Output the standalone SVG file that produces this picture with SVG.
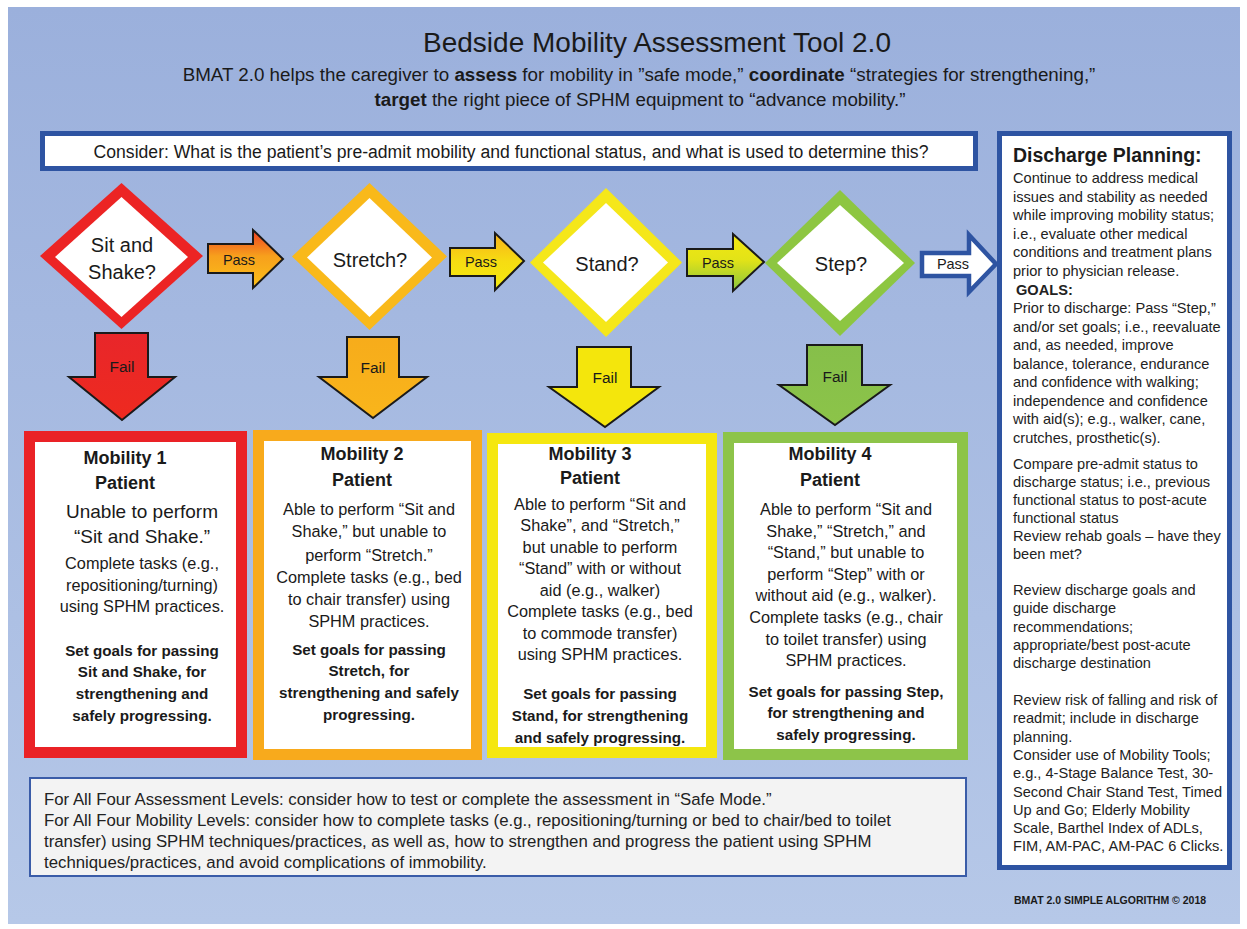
<svg xmlns="http://www.w3.org/2000/svg" width="1247" height="929" viewBox="0 0 1247 929">
<defs>
<linearGradient id="bg" x1="0" y1="0" x2="0" y2="1">
<stop offset="0" stop-color="#9bb0dc"/>
<stop offset="1" stop-color="#b6c8e8"/>
</linearGradient>
<linearGradient id="gPass1" x1="0" y1="0" x2="0" y2="1">
<stop offset="0" stop-color="#ee3f24"/>
<stop offset="0.45" stop-color="#f7a01c"/>
<stop offset="1" stop-color="#fbc019"/>
</linearGradient>
<linearGradient id="gPass2" x1="0" y1="0" x2="0" y2="1">
<stop offset="0" stop-color="#f8b21a"/>
<stop offset="0.5" stop-color="#f6dc12"/>
<stop offset="1" stop-color="#f4ea10"/>
</linearGradient>
<linearGradient id="gPass3" x1="0" y1="0" x2="0" y2="1">
<stop offset="0" stop-color="#f3e812"/>
<stop offset="0.45" stop-color="#e3e317"/>
<stop offset="1" stop-color="#86c440"/>
</linearGradient>
<linearGradient id="gRed" x1="0" y1="0" x2="0" y2="1">
<stop offset="0" stop-color="#e8262a"/>
<stop offset="1" stop-color="#ee2a1f"/>
</linearGradient>
<linearGradient id="gOrange" x1="0" y1="0" x2="0" y2="1">
<stop offset="0" stop-color="#f7ac1b"/>
<stop offset="1" stop-color="#f9b51b"/>
</linearGradient>
<linearGradient id="gGreen" x1="0" y1="0" x2="0" y2="1">
<stop offset="0" stop-color="#86bf4a"/>
<stop offset="1" stop-color="#8cc449"/>
</linearGradient>
</defs>
<style>
text { font-family: "Liberation Sans", Arial, sans-serif; fill: #1a1a1a; }
.title { font-size: 28px; text-anchor: middle; }
.sub { font-size: 18.8px; text-anchor: middle; }
.b { font-weight: bold; }
.dt { font-size: 20px; text-anchor: middle; }
.pass { font-size: 14.5px; text-anchor: middle; }
.fail { font-size: 15.5px; text-anchor: middle; }
.mh { font-size: 18px; font-weight: bold; text-anchor: middle; }
.mb { font-size: 16.3px; text-anchor: middle; }
.mbl { font-size: 19px; text-anchor: middle; }
.mg { font-size: 15.2px; font-weight: bold; text-anchor: middle; }
.ds { font-size: 14.6px; fill: #222; }
.dh { font-size: 19.5px; font-weight: bold; }
.bt { font-size: 16.8px; fill: #222; }
.arrow { stroke: #1a1a1a; stroke-width: 2; stroke-linejoin: miter; }
.white { fill: #ffffff; }
</style>
<rect x="0" y="0" width="1247" height="929" fill="#ffffff"/>
<rect x="8" y="7" width="1232" height="917" fill="url(#bg)"/>

<g id="header">
<text class="title" x="657" y="52">Bedside Mobility Assessment Tool 2.0</text>
<text class="sub" x="639" y="81">BMAT 2.0 helps the caregiver to <tspan class="b">assess</tspan> for mobility in ”safe mode,” <tspan class="b">coordinate</tspan> “strategies for strengthening,”</text>
<text class="sub" x="640" y="106"><tspan class="b">target</tspan> the right piece of SPHM equipment to “advance mobility.”</text>
</g>

<g id="consider">
<rect x="42.5" y="133.5" width="933" height="35" fill="#ffffff" stroke="#2e54a2" stroke-width="5"/>
<text x="511" y="158" font-size="17.6" text-anchor="middle">Consider: What is the patient’s pre-admit mobility and functional status, and what is used to determine this?</text>
</g>

<g id="connectors">
<g id="pass1">
<polygon class="arrow" points="208,244 253,244 253,230 283,259 253,288 253,273 208,273" fill="url(#gPass1)"/>
<text class="pass" x="239" y="265">Pass</text>
</g>
<g id="pass2">
<polygon class="arrow" points="450,248 495,248 495,233 524,261 495,290 495,276 450,276" fill="url(#gPass2)"/>
<text class="pass" x="481" y="267">Pass</text>
</g>
<g id="pass3">
<polygon class="arrow" points="687,249 733,249 733,234 764,262 733,291 733,276 687,276" fill="url(#gPass3)"/>
<text class="pass" x="718" y="268">Pass</text>
</g>
<g id="pass4">
<polygon points="922,253 969,253 969,235 996,264 969,292 969,276 922,276" fill="#ffffff" stroke="#2e54a2" stroke-width="4.5" stroke-linejoin="miter"/>
<text class="pass" x="953" y="269">Pass</text>
</g>
<g id="fail1">
<polygon class="arrow" points="95,333 148,333 148,377 175,377 122,420 69,377 95,377" fill="url(#gRed)"/>
<text class="fail" x="122" y="372">Fail</text>
</g>
<g id="fail2">
<polygon class="arrow" points="347,337 399,337 399,377 427,377 373,418 319,377 347,377" fill="url(#gOrange)"/>
<text class="fail" x="373" y="373">Fail</text>
</g>
<g id="fail3">
<polygon class="arrow" points="577,347 631,347 631,387 659,387 605,427 549,387 577,387" fill="#f4e60c"/>
<text class="fail" x="605" y="383" font-size="16">Fail</text>
</g>
<g id="fail4">
<polygon class="arrow" points="807,345 862,345 862,385 890,385 835,425 779,385 807,385" fill="url(#gGreen)"/>
<text class="fail" x="835" y="382" font-size="16">Fail</text>
</g>
</g>

<g id="d1">
<polygon points="121.5,183 203,256 121.5,329 40,256" fill="#ec2424"/>
<polygon class="white" points="121.5,197 188,257 121.5,317 55,257"/>
<text class="dt" x="122" y="252">Sit and</text>
<text class="dt" x="122" y="279">Shake?</text>
</g>
<g id="d2">
<polygon points="369.5,183 447,256.5 369.5,330 292,256.5" fill="#f9b91a"/>
<polygon class="white" points="369.5,198 432,257.5 369.5,317 307,257.5"/>
<text class="dt" x="370" y="267" font-size="20.5">Stretch?</text>
</g>
<g id="d3">
<polygon points="606,188 682,262.5 606,337 530,262.5" fill="#f5e71a"/>
<polygon class="white" points="606,203 668,262.5 606,322 543,262.5"/>
<text class="dt" x="607" y="271" font-size="20.5">Stand?</text>
</g>
<g id="d4">
<polygon points="840,190 915,263 840,336 765,263" fill="#8dc641"/>
<polygon class="white" points="840,205 904,263 840,321 777,263"/>
<text class="dt" x="841" y="271" font-size="20.5">Step?</text>
</g>

<g id="m1">
<rect x="29.5" y="436.5" width="212" height="316" fill="#ffffff" stroke="#ea2226" stroke-width="11"/>
<text class="mh" x="125" y="464">Mobility 1</text>
<text class="mh" x="125" y="489">Patient</text>
<text class="mbl" x="142" y="518">Unable to perform</text>
<text class="mbl" x="142" y="543">“Sit and Shake.”</text>
<text class="mb" x="142" y="569">Complete tasks (e.g.,</text>
<text class="mb" x="142" y="591">repositioning/turning)</text>
<text class="mb" x="142" y="612">using SPHM practices.</text>
<text class="mg" x="142" y="656">Set goals for passing</text>
<text class="mg" x="142" y="677">Sit and Shake, for</text>
<text class="mg" x="142" y="699">strengthening  and</text>
<text class="mg" x="142" y="721">safely  progressing.</text>
</g>

<g id="m2">
<rect x="258.5" y="435.5" width="218" height="319" fill="#ffffff" stroke="#f8aa1c" stroke-width="11"/>
<text class="mh" x="362" y="460">Mobility 2</text>
<text class="mh" x="362" y="486">Patient</text>
<text class="mb" x="369" y="515">Able to perform “Sit and</text>
<text class="mb" x="369" y="537">Shake,” but unable to</text>
<text class="mb" x="369" y="561">perform “Stretch.”</text>
<text class="mb" x="369" y="583">Complete tasks (e.g., bed</text>
<text class="mb" x="369" y="605">to chair transfer) using</text>
<text class="mb" x="369" y="627">SPHM practices.</text>
<text class="mg" x="369" y="655">Set goals for passing</text>
<text class="mg" x="369" y="676">Stretch, for</text>
<text class="mg" x="369" y="698">strengthening and safely</text>
<text class="mg" x="369" y="720">progressing.</text>
</g>

<g id="m3">
<rect x="492.5" y="438.5" width="219" height="314" fill="#ffffff" stroke="#f5e70f" stroke-width="11"/>
<text class="mh" x="590" y="460">Mobility 3</text>
<text class="mh" x="590" y="484">Patient</text>
<text class="mb" x="600" y="510">Able to perform “Sit and</text>
<text class="mb" x="600" y="531">Shake”, and “Stretch,”</text>
<text class="mb" x="600" y="553">but unable to perform</text>
<text class="mb" x="600" y="574">“Stand” with or without</text>
<text class="mb" x="600" y="596">aid (e.g., walker)</text>
<text class="mb" x="600" y="617">Complete tasks (e.g., bed</text>
<text class="mb" x="600" y="639">to commode  transfer)</text>
<text class="mb" x="600" y="660">using SPHM practices.</text>
<text class="mg" x="600" y="699">Set goals for passing</text>
<text class="mg" x="600" y="721">Stand, for strengthening</text>
<text class="mg" x="600" y="743">and safely progressing.</text>
</g>

<g id="m4">
<rect x="728.5" y="437.5" width="234" height="317" fill="#ffffff" stroke="#8dc449" stroke-width="11"/>
<text class="mh" x="830" y="460">Mobility 4</text>
<text class="mh" x="830" y="486">Patient</text>
<text class="mb" x="846" y="515">Able to perform “Sit and</text>
<text class="mb" x="846" y="537">Shake,” “Stretch,” and</text>
<text class="mb" x="846" y="558">“Stand,” but unable to</text>
<text class="mb" x="846" y="580">perform “Step” with or</text>
<text class="mb" x="846" y="601">without aid (e.g., walker).</text>
<text class="mb" x="846" y="623">Complete tasks (e.g., chair</text>
<text class="mb" x="846" y="645">to toilet transfer) using</text>
<text class="mb" x="846" y="666">SPHM practices.</text>
<text class="mg" x="846" y="697">Set goals for passing Step,</text>
<text class="mg" x="846" y="718">for strengthening and</text>
<text class="mg" x="846" y="740">safely  progressing.</text>
</g>

<g id="discharge">
<rect x="999.5" y="133.5" width="230" height="734" fill="#ffffff" stroke="#2e54a2" stroke-width="5"/>
<text class="dh" x="1013" y="162">Discharge Planning:</text>
<text class="ds" x="1013" y="183">Continue to address medical</text>
<text class="ds" x="1013" y="201.5">issues and stability as needed</text>
<text class="ds" x="1013" y="220">while improving mobility status;</text>
<text class="ds" x="1013" y="238.5">i.e., evaluate other medical</text>
<text class="ds" x="1013" y="257">conditions and treatment plans</text>
<text class="ds" x="1013" y="276">prior to physician release.</text>
<text class="ds b" x="1016" y="295">GOALS:</text>
<text class="ds" x="1013" y="313">Prior to discharge: Pass “Step,”</text>
<text class="ds" x="1013" y="332">and/or set goals; i.e., reevaluate</text>
<text class="ds" x="1013" y="350">and, as needed, improve</text>
<text class="ds" x="1013" y="369">balance, tolerance, endurance</text>
<text class="ds" x="1013" y="387">and confidence with walking;</text>
<text class="ds" x="1013" y="406">independence and confidence</text>
<text class="ds" x="1013" y="424">with aid(s); e.g., walker, cane,</text>
<text class="ds" x="1013" y="443">crutches, prosthetic(s).</text>
<text class="ds" x="1013" y="469">Compare pre-admit status to</text>
<text class="ds" x="1013" y="487">discharge status; i.e., previous</text>
<text class="ds" x="1013" y="505">functional status to post-acute</text>
<text class="ds" x="1013" y="523">functional status</text>
<text class="ds" x="1013" y="541">Review rehab goals – have they</text>
<text class="ds" x="1013" y="559">been met?</text>
<text class="ds" x="1013" y="595">Review discharge goals and</text>
<text class="ds" x="1013" y="613">guide discharge</text>
<text class="ds" x="1013" y="632">recommendations;</text>
<text class="ds" x="1013" y="650">appropriate/best  post-acute</text>
<text class="ds" x="1013" y="668">discharge destination</text>
<text class="ds" x="1013" y="705">Review risk of falling and risk of</text>
<text class="ds" x="1013" y="723">readmit; include in discharge</text>
<text class="ds" x="1013" y="742">planning.</text>
<text class="ds" x="1013" y="760">Consider use of Mobility Tools;</text>
<text class="ds" x="1013" y="778">e.g., 4-Stage Balance Test, 30-</text>
<text class="ds" x="1013" y="797">Second Chair Stand Test, Timed</text>
<text class="ds" x="1013" y="815">Up and Go; Elderly Mobility</text>
<text class="ds" x="1013" y="833">Scale, Barthel Index of ADLs,</text>
<text class="ds" x="1013" y="851">FIM, AM-PAC, AM-PAC 6 Clicks.</text>
</g>

<g id="footer">
<text x="1014" y="904" font-size="10.5" font-weight="bold" fill="#222">BMAT 2.0  SIMPLE ALGORITHM © 2018</text>
</g>

<g id="notes">
<rect x="30" y="778" width="936" height="98" fill="#f3f3f3" stroke="#3a5ca8" stroke-width="2"/>
<text class="bt" x="44" y="805">For All Four Assessment Levels: consider how to test or complete the assessment  in “Safe Mode.”</text>
<text class="bt" x="44" y="826">For All Four Mobility Levels: consider how to complete tasks (e.g., repositioning/turning or bed to chair/bed to toilet</text>
<text class="bt" x="44" y="847">transfer) using SPHM techniques/practices, as well as, how to strengthen and progress the patient using SPHM</text>
<text class="bt" x="44" y="868">techniques/practices, and avoid complications of immobility.</text>
</g>
</svg>
